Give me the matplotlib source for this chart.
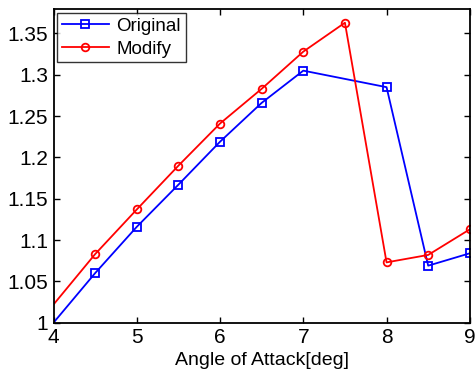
import numpy as np
import matplotlib.pyplot as plt

plt.rcParams['font.family'] = ['Liberation Sans', 'DejaVu Sans']

# data (x=3.5 points sit outside the visible axis range)
x_orig = [3.5, 4.5, 5, 5.5, 6, 6.5, 7, 8, 8.5, 9]
y_orig = [0.940, 1.060, 1.116, 1.167, 1.219, 1.266, 1.305, 1.285, 1.069, 1.084]
x_mod = [3.5, 4.5, 5, 5.5, 6, 6.5, 7, 7.5, 8, 8.5, 9]
y_mod = [0.961, 1.083, 1.137, 1.190, 1.241, 1.283, 1.328, 1.363, 1.073, 1.082, 1.113]

fig = plt.figure(figsize=(4.76, 3.72), dpi=100)
ax = fig.add_axes([0.1124, 0.1325, 0.8746, 0.842])

ax.plot(x_orig, y_orig, color='b', marker='s', mfc='none', ms=5.5, mew=1.3,
        lw=1.3, label='Original')
ax.plot(x_mod, y_mod, color='r', marker='o', mfc='none', ms=5.5, mew=1.3,
        lw=1.3, label='Modify')

ax.set_xlim(4, 9)
ax.set_ylim(1, 1.379)
ax.set_xticks([4, 5, 6, 7, 8, 9])
ax.set_xticklabels(['4', '5', '6', '7', '8', '9'])
ax.set_yticks([1, 1.05, 1.1, 1.15, 1.2, 1.25, 1.3, 1.35])
ax.set_yticklabels(['1', '1.05', '1.1', '1.15', '1.2', '1.25', '1.3', '1.35'])
ax.tick_params(direction='in', top=True, right=True, labelsize=15, length=4, width=1)
ax.tick_params(axis='y', pad=4)
for s in ax.spines.values():
    s.set_linewidth(1.3)

ax.set_xlabel('Angle of Attack[deg]', fontsize=14, labelpad=4)

leg = ax.legend(loc='upper left', fontsize=13.5, fancybox=False, edgecolor='k',
                borderaxespad=0.2, handlelength=2.5, labelspacing=0.3,
                borderpad=0.25, handletextpad=0.4)
leg.get_frame().set_linewidth(1.0)

plt.savefig('out.png', dpi=100)
